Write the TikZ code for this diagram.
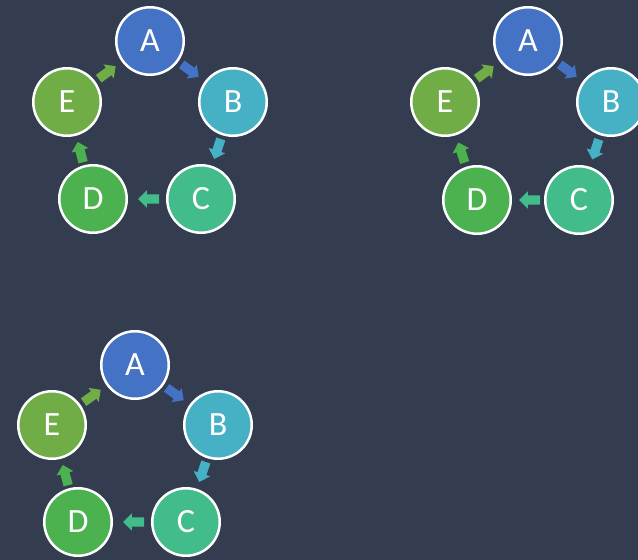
\documentclass[tikz,border=0pt]{standalone}
\usepackage{fontspec}
\setmainfont{Carlito}
\usepackage{tikz}
\usetikzlibrary{shapes.arrows}
\usepackage{xcolor}

\definecolor{bgslate}{HTML}{333D4F}
\definecolor{colA}{HTML}{4472C4}
\definecolor{colB}{HTML}{46B0C4}
\definecolor{colC}{HTML}{43BC8B}
\definecolor{colD}{HTML}{4CB250}
\definecolor{colE}{HTML}{70AD47}

\begin{document}
\begin{tikzpicture}[x=1pt, y=-1pt,
		stage/.style={circle, draw=white, line width=2.5pt, minimum size=67.5pt, inner sep=0pt, text=white, font=\fontsize{34}{34}\selectfont},
		turn/.style={single arrow, draw=none, minimum height=21pt, single arrow head extend=4pt, inner xsep=0pt, inner ysep=4.5pt, midway, sloped, allow upside down, xshift=-4pt}]
			\useasboundingbox (0,0) rectangle (638,560);
			\clip (0,0) rectangle (638,560);
			\fill[bgslate] (0,0) rectangle (638,560);
			
			\node[stage, fill=colA] (a1) at (150,41) {A};
			\node[stage, fill=colB] (b1) at (233,102) {B};
			\node[stage, fill=colC] (c1) at (201,199) {C};
			\node[stage, fill=colD] (d1) at (93,199) {D};
			\node[stage, fill=colE] (e1) at (67,102) {E};
			\path (a1) -- (b1) node[turn, fill=colA] (ab1) {};
			\path (b1) -- (c1) node[turn, fill=colB] (bc1) {};
			\path (c1) -- (d1) node[turn, fill=colC] (cd1) {};
			\path (d1) -- (e1) node[turn, fill=colD] (de1) {};
			\path (e1) -- (a1) node[turn, fill=colE] (ea1) {};
			
			\node[stage, fill=colA] (a2) at (528,41) {A};
			\node[stage, fill=colB] (b2) at (611,102) {B};
			\node[stage, fill=colC] (c2) at (579,200) {C};
			\node[stage, fill=colD] (d2) at (477,200) {D};
			\node[stage, fill=colE] (e2) at (445,102) {E};
			\path (a2) -- (b2) node[turn, fill=colA] (ab2) {};
			\path (b2) -- (c2) node[turn, fill=colB] (bc2) {};
			\path (c2) -- (d2) node[turn, fill=colC] (cd2) {};
			\path (d2) -- (e2) node[turn, fill=colD] (de2) {};
			\path (e2) -- (a2) node[turn, fill=colE] (ea2) {};
			
			\node[stage, fill=colA] (a3) at (135,365) {A};
			\node[stage, fill=colB] (b3) at (218,425) {B};
			\node[stage, fill=colC] (c3) at (186,522) {C};
			\node[stage, fill=colD] (d3) at (78,522) {D};
			\node[stage, fill=colE] (e3) at (52,425) {E};
			\path (a3) -- (b3) node[turn, fill=colA] (ab3) {};
			\path (b3) -- (c3) node[turn, fill=colB] (bc3) {};
			\path (c3) -- (d3) node[turn, fill=colC] (cd3) {};
			\path (d3) -- (e3) node[turn, fill=colD] (de3) {};
			\path (e3) -- (a3) node[turn, fill=colE] (ea3) {};
		\end{tikzpicture}
\end{document}
